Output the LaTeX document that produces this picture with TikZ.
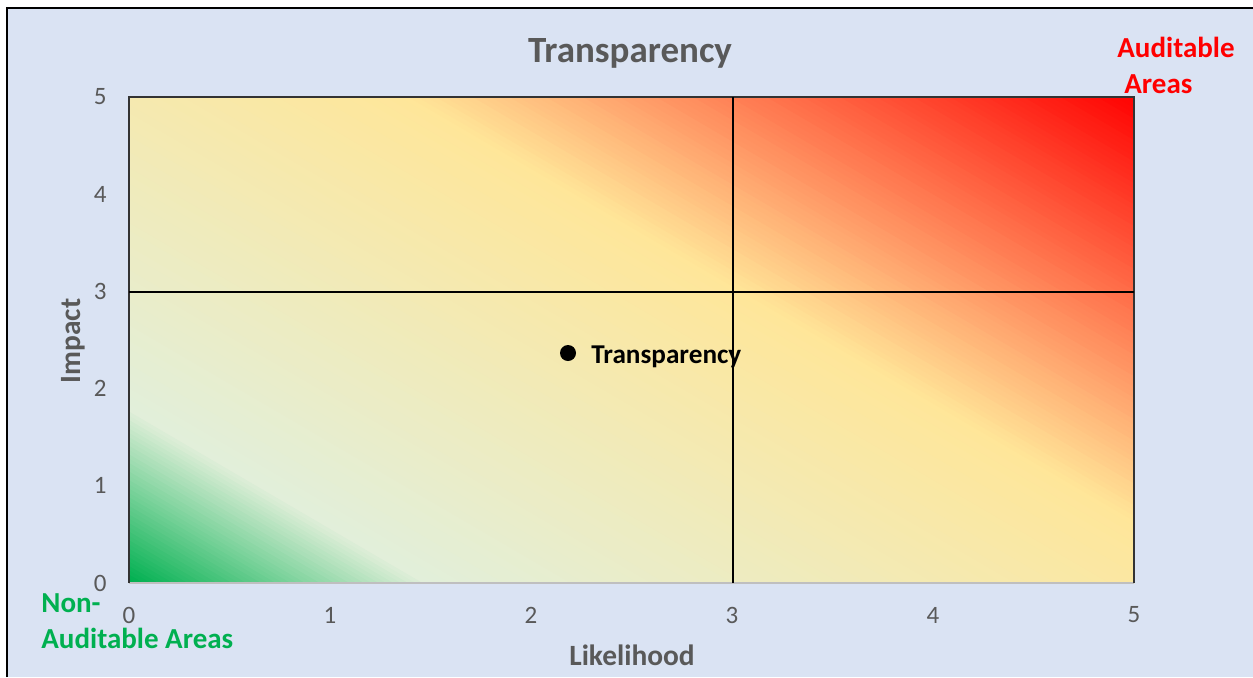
\documentclass[tikz,border=0pt]{standalone}
\usepackage{fontspec}
\setmainfont{Carlito}
\definecolor{bgblue}{HTML}{DAE3F3}
\definecolor{txtgray}{HTML}{595959}
\definecolor{gGreen}{HTML}{00B050}
\definecolor{gLight}{HTML}{E2EFDA}
\definecolor{gYellow}{HTML}{FFE699}
\definecolor{gRed}{HTML}{FF0000}
\definecolor{axisgray}{HTML}{BFBFBF}
% band of the diagonal gradient: u from #1 to #2, colours #3 -> #4, #5 steps
\newcommand\gradseg[5]{%
  \foreach \k in {0,...,#5}{%
    \pgfmathsetmacro\ua{(#1+(#2-#1)*\k/#5)*6.3124}%
    \pgfmathsetmacro\ub{\ua+1.8*(#2-#1)/#5*6.3124}%
    \pgfmathtruncatemacro\pc{100*\k/#5}%
    \fill[#4!\pc!#3]
      ({129+291*(\ua+1)},{583+170}) -- ({129+291*(\ua-7)},{583-1190})
      -- ({129+291*(\ub-7)},{583-1190}) -- ({129+291*(\ub+1)},{583+170}) -- cycle;
  }}
\tikzset{
  ticklabel/.style={text=txtgray, inner sep=0pt, font=\fontsize{12.5}{15}\selectfont},
  axistitle/.style={text=txtgray, inner sep=0pt, font=\fontsize{14.7}{17}\selectfont\bfseries},
  cornerlabel/.style={inner sep=0pt, align=left, font=\fontsize{14.5}{17.75}\selectfont\bfseries},
  gridline/.style={black, line width=0.6pt},
}
\begin{document}
\begin{tikzpicture}[x=0.5pt,y=-0.5pt]
\useasboundingbox (0,0) rectangle (1253,677);
\fill[white] (0,0) rectangle (1253,677);
\fill[bgblue] (7,8) rectangle (1253,677);
\draw[line width=1pt] (7,677) -- (7,8) -- (1253,8);
% plot corners
\coordinate (BL) at (129,583);
\coordinate (TL) at (129,97);
\coordinate (TR) at (1134,97);
\coordinate (BR) at (1134,583);
% gradient
\begin{scope}
  \clip (BL) rectangle (TR);
  \gradseg{0}{0.16}{gGreen}{gLight}{40}
  \gradseg{0.16}{0.6}{gLight}{gYellow}{60}
  \gradseg{0.6}{1.0}{gYellow}{gRed}{80}
\end{scope}
% plot border
\draw[axisgray, line width=0.75pt] (BL) -- (BR);
\draw[black!80, line width=0.75pt] (BL) -- (TL) -- (TR) -- (BR);
% quadrant lines
\coordinate (v3b) at (733,583);
\coordinate (v3t) at (733,97);
\coordinate (h3l) at (129,292);
\coordinate (h3r) at (1134,292);
\draw[gridline] (v3b) -- (v3t);
\draw[gridline] (h3l) -- (h3r);
% tick labels
\foreach \v in {0,...,5}{
  \node[ticklabel, anchor=east] (yt\v) at (107,{583-97.2*\v}) {\v};
  \node[ticklabel, anchor=center] (xt\v) at ({129+201*\v},615) {\v};
}
% titles
\node[text=txtgray, anchor=base, inner sep=0pt, font=\fontsize{18.5}{22}\selectfont\bfseries] (title) at (630,62) {Transparency};
\node[axistitle, anchor=base] (xtitle) at (632,665) {Likelihood};
\node[axistitle, anchor=base, rotate=90] (ytitle) at (80,341) {Impact};
% data point
\node[circle, fill=black, inner sep=0pt, minimum size=8pt] (dot) at (568,353) {};
\node[anchor=base west, inner sep=0pt, font=\fontsize{13.6}{16}\selectfont\bfseries] (dotlabel) at (591,363) {Transparency};
% corner labels (base = last line)
\node[cornerlabel, text=gRed, anchor=base west] (aud) at (1117,93) {Auditable\\\hspace*{3.5pt}Areas};
\node[cornerlabel, text=gGreen, anchor=base west] (nonaud) at (41,648) {Non-\\Auditable Areas};
\end{tikzpicture}
\end{document}
